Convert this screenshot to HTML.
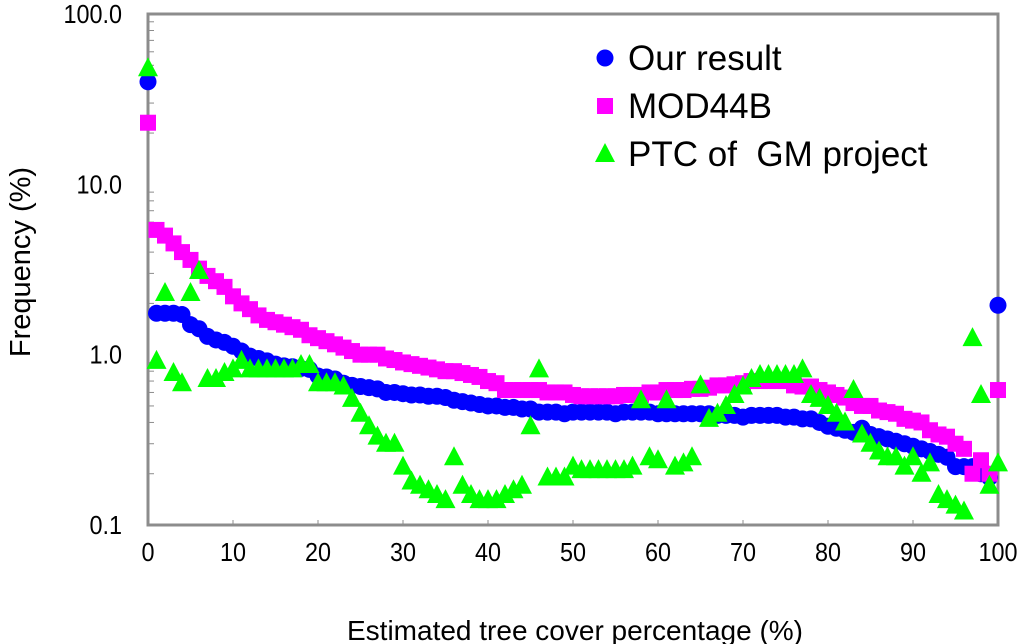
<!DOCTYPE html>
<html><head><meta charset="utf-8"><style>
html,body{margin:0;padding:0;background:#fff;width:1024px;height:644px;overflow:hidden}
svg text{font-family:"Liberation Sans",Arial,sans-serif}
</style></head><body>
<svg id="chart" width="1024" height="644">
<g id="axes"></g>
<g id="marks"></g>
<g id="legend"></g>
</svg>
<script>
const xTicks=[0,10,20,30,40,50,60,70,80,90,100];
const yTicks=[0.1,1,10,100];
const yTickLabels=["0.1","1.0","10.0","100.0"];
const seriesNames=["Our result","MOD44B","PTC of  GM project"];
const ourResult=[40,1.75,1.75,1.75,1.72,1.5,1.42,1.28,1.22,1.18,1.12,1.05,0.98,0.95,0.92,0.88,0.86,0.85,0.83,0.82,0.75,0.74,0.72,0.68,0.66,0.65,0.64,0.63,0.6,0.6,0.59,0.58,0.58,0.57,0.57,0.56,0.54,0.53,0.52,0.51,0.5,0.5,0.49,0.49,0.48,0.48,0.46,0.46,0.46,0.45,0.46,0.46,0.46,0.46,0.46,0.45,0.46,0.46,0.46,0.46,0.45,0.45,0.45,0.45,0.45,0.45,0.45,0.44,0.44,0.44,0.43,0.44,0.44,0.44,0.44,0.43,0.43,0.42,0.42,0.4,0.38,0.37,0.36,0.35,0.37,0.34,0.33,0.32,0.31,0.3,0.29,0.28,0.27,0.26,0.25,0.22,0.22,0.22,0.2,0.19,1.95];
const mod44b=[23,5.4,5.0,4.5,4.0,3.6,3.2,2.9,2.7,2.5,2.2,2.0,1.85,1.7,1.6,1.55,1.5,1.45,1.4,1.3,1.25,1.2,1.15,1.1,1.05,1.0,1.0,1.0,0.95,0.93,0.9,0.88,0.86,0.84,0.82,0.8,0.8,0.78,0.76,0.74,0.7,0.68,0.62,0.62,0.62,0.62,0.62,0.6,0.6,0.6,0.58,0.57,0.57,0.57,0.57,0.57,0.58,0.58,0.58,0.6,0.6,0.62,0.62,0.62,0.63,0.63,0.64,0.66,0.66,0.67,0.68,0.7,0.7,0.7,0.7,0.7,0.66,0.65,0.65,0.62,0.6,0.58,0.56,0.52,0.5,0.5,0.47,0.46,0.45,0.42,0.41,0.4,0.36,0.34,0.33,0.3,0.28,0.2,0.24,0.2,0.62];
const ptcGM=[48,0.92,2.3,0.78,0.68,2.3,3.1,0.72,0.72,0.78,0.82,0.92,0.82,0.82,0.82,0.82,0.82,0.82,0.87,0.87,0.68,0.68,0.68,0.65,0.55,0.45,0.38,0.33,0.3,0.3,0.22,0.18,0.17,0.16,0.15,0.14,0.25,0.17,0.15,0.14,0.14,0.14,0.15,0.16,0.17,0.38,0.82,0.19,0.19,0.19,0.22,0.21,0.21,0.21,0.21,0.21,0.21,0.22,0.54,0.25,0.24,0.54,0.22,0.23,0.25,0.66,0.42,0.45,0.5,0.58,0.65,0.72,0.76,0.76,0.76,0.76,0.76,0.82,0.58,0.55,0.5,0.45,0.4,0.62,0.34,0.3,0.27,0.25,0.25,0.22,0.25,0.2,0.23,0.15,0.14,0.13,0.12,1.25,0.58,0.17,0.23];

const NS="http://www.w3.org/2000/svg";
const L=148,R=998,T=14,B=525;
function xs(v){return L+(v/100)*(R-L);}
function ys(v){return B-(Math.log10(v)+1)/3*(B-T);}
function mk(tag,attrs,parent){const e=document.createElementNS(NS,tag);for(const k in attrs)e.setAttribute(k,attrs[k]);parent.appendChild(e);return e;}
const axes=document.getElementById('axes'),marks=document.getElementById('marks'),legend=document.getElementById('legend');

const frame=mk('rect',{x:L,y:T,width:R-L,height:B-T,fill:'none',stroke:'#8c8c8c','stroke-width':3},axes);


for(let d=-1;d<2;d++){for(let m=2;m<=9;m++){const v=m*Math.pow(10,d);const t=mk('line',{x1:L,x2:L+6,y1:ys(v),y2:ys(v),stroke:'#8c8c8c','stroke-width':1},axes);

}}
yTicks.forEach((v,i)=>{const t=mk('text',{x:0,y:0,'text-anchor':'end','font-size':26,fill:'#000',transform:`translate(122,${ys(v)+9}) scale(0.9,1)`},axes);t.textContent=yTickLabels[i];

});
xTicks.forEach(v=>{const tk=mk('line',{x1:xs(v),x2:xs(v),y1:B,y2:B-5,stroke:'#8c8c8c','stroke-width':1},axes);


const t=mk('text',{x:0,y:0,'text-anchor':'middle','font-size':26,fill:'#000',transform:`translate(${xs(v)},561) scale(0.9,1)`},axes);t.textContent=String(v);

});
const xt=mk('text',{x:575,y:640,'text-anchor':'middle','font-size':28,fill:'#000'},axes);xt.textContent="Estimated tree cover percentage (%)";


const yt=mk('text',{x:0,y:0,'text-anchor':'middle','font-size':29,fill:'#000',transform:'translate(30,262) rotate(-90)'},axes);yt.textContent="Frequency (%)";



function circle(x,y,g){return mk('circle',{cx:x,cy:y,r:8.5,fill:'#0000ff'},g);}
function square(x,y,g){return mk('rect',{x:x-8,y:y-8,width:16,height:16,fill:'#ff00ff'},g);}
function tri(x,y,g){return mk('polygon',{points:`${x},${y-11} ${x-10},${y+8} ${x+10},${y+8}`,fill:'#00ff00'},g);}
const data=[ourResult,mod44b,ptcGM],shapes=[circle,square,tri],names=['our-result-point','mod44b-point','ptc-gm-point'];
data.forEach((arr,si)=>{arr.forEach((v,i)=>{const e=shapes[si](xs(i),ys(v),marks);

});});

seriesNames.forEach((n,i)=>{const y=58+i*48;const e=shapes[i](605,y,legend);


const t=mk('text',{x:628,y:y+12,'font-size':35,fill:'#000'},legend);t.textContent=n;t.style.whiteSpace='pre';

});
</script>
</body></html>
